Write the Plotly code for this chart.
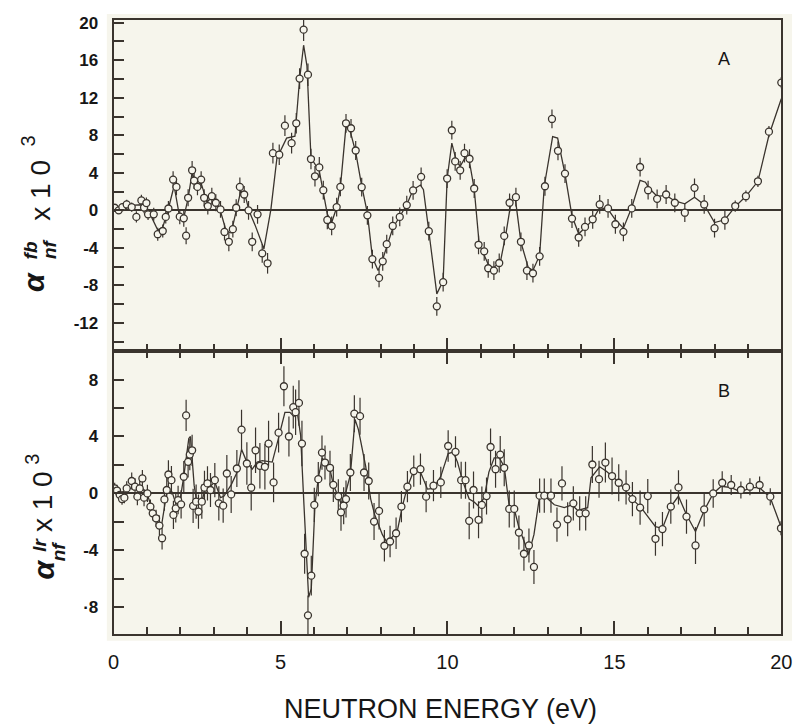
import plotly.graph_objects as go

# ---------------- data ----------------
top_x = [0.03, 0.15, 0.26, 0.39, 0.54, 0.68, 0.83, 0.91, 0.98, 1.03,
         1.20, 1.32, 1.47, 1.56, 1.64, 1.78, 1.88, 1.98, 2.10, 2.17,
         2.23, 2.35, 2.41, 2.51, 2.62, 2.71, 2.82, 2.94, 3.06, 3.20,
         3.32, 3.45, 3.57, 3.67, 3.78, 3.91, 4.04, 4.15, 4.31, 4.45,
         4.61, 4.77, 4.96, 5.13, 5.33, 5.47, 5.57, 5.69, 5.82, 5.91,
         6.03, 6.16, 6.28, 6.40, 6.53, 6.68, 6.79, 6.96, 7.11, 7.25,
         7.43, 7.60, 7.75, 7.95, 8.06, 8.18, 8.36, 8.57, 8.78, 8.97,
         9.21, 9.44, 9.68, 9.87, 9.99, 10.13, 10.23, 10.38, 10.51, 10.66,
         10.80, 10.93, 11.10, 11.22, 11.39, 11.55, 11.70, 11.86, 12.05, 12.20,
         12.38, 12.56, 12.76, 12.92, 13.13, 13.31, 13.52, 13.73, 13.93, 14.12,
         14.35, 14.56, 14.81, 15.03, 15.27, 15.52, 15.77, 16.01, 16.28, 16.55,
         16.81, 17.11, 17.40, 17.69, 18.00, 18.31, 18.62, 18.94, 19.30, 19.63,
         20.00]
top_y = [0.28, 0.0, 0.35, 0.63, 0.35, -0.7, 1.06, 0.3, 0.78, -0.42,
         -0.42, -2.54, -2.2, -0.7, 0.2, 3.28, 2.5, -0.67, -0.85, -2.7,
         1.34, 4.27, 3.17, 2.5, 3.28, 1.34, 0.46, 1.51, 0.81, 0.1,
         -2.3, -3.35, -2.0, 0.28, 2.5, 1.69, 0.0, -3.35, -0.42, -4.59,
         -5.64, 6.1, 5.93, 9.03, 7.16, 9.28, 14.04, 19.26, 14.46, 5.47,
         3.63, 4.58, 2.15, -1.02, -1.66, 0.35, 2.5, 9.28, 8.75, 6.38,
         2.47, -0.53, -5.19, -7.2, -5.43, -3.6, -1.66, -0.7, 0.56, 2.12,
         3.57, -2.22, -10.23, -7.65, 3.39, 8.54, 5.22, 4.27, 6.1, 5.5,
         2.33, -3.67, -4.37, -6.17, -6.42, -5.61, -2.72, 0.81, 1.41, -3.35,
         -6.42, -6.7, -4.9, 2.57, 9.74, 6.35, 3.92, -0.88, -2.89, -1.76,
         -0.95, 0.63, 0.21, -1.48, -2.29, 0.21, 4.62, 2.15, 1.23, 1.69,
         0.81, -0.25, 2.4, 0.63, -1.9, -1.06, 0.46, 1.51, 3.1, 8.39,
         13.62]
top_err = [0.4, 0.4, 0.4, 0.5, 0.5, 0.6, 0.6, 0.6, 0.6, 0.6,
           0.7, 0.7, 0.7, 0.7, 0.8, 0.9, 0.9, 0.8, 0.9, 0.9,
           0.9, 1.0, 0.9, 0.9, 0.9, 0.9, 0.9, 0.9, 0.9, 0.9,
           0.9, 1.0, 0.9, 0.9, 1.0, 0.9, 1.0, 1.0, 1.0, 1.0,
           1.1, 1.1, 1.1, 1.1, 1.1, 1.1, 1.1, 1.2, 1.2, 1.1,
           1.1, 1.1, 1.0, 1.0, 1.0, 1.0, 1.0, 1.0, 1.0, 1.0,
           1.0, 1.0, 1.0, 1.0, 1.0, 1.0, 1.0, 1.0, 1.0, 1.0,
           1.0, 1.0, 1.0, 1.0, 1.0, 1.0, 1.0, 1.0, 1.0, 1.0,
           1.0, 1.0, 1.0, 1.0, 1.0, 1.0, 1.0, 1.0, 1.0, 1.0,
           1.0, 1.0, 1.0, 1.0, 1.0, 1.0, 1.0, 1.0, 1.0, 1.0,
           1.0, 1.0, 1.0, 1.0, 1.0, 1.0, 1.0, 1.0, 1.0, 1.0,
           1.0, 1.0, 1.0, 1.0, 1.0, 1.0, 0.6, 0.6, 0.6, 0.6,
           0.6]

top_fit_x = [0.03, 0.39, 0.83, 1.07, 1.32, 1.47, 1.64, 1.81, 1.96, 2.08,
             2.23, 2.35, 2.49, 2.62, 2.79, 2.96, 3.2, 3.37, 3.52, 3.69,
             3.81, 3.96, 4.06, 4.24, 4.5, 4.71, 4.89, 5.18, 5.43, 5.57,
             5.69, 5.79, 5.91, 6.16, 6.40, 6.53, 6.68, 6.79, 6.96, 7.08,
             7.25, 7.43, 7.6, 7.75, 7.92, 8.06, 8.36, 8.78, 8.97, 9.19,
             9.28, 9.44, 9.68, 9.87, 9.99, 10.13, 10.27, 10.38, 10.51, 10.63,
             10.8, 10.95, 11.24, 11.39, 11.59, 11.75, 11.9, 12.03, 12.2, 12.42,
             12.56, 12.76, 12.9, 13.15, 13.3, 13.52, 13.73, 13.93, 14.17, 14.37,
             14.56, 14.81, 15.03, 15.27, 15.52, 15.77, 15.93, 16.03, 16.28, 16.55,
             16.81, 17.11, 17.4, 17.69, 18.0, 18.31, 18.62, 18.94, 19.3, 19.63,
             20.0]
top_fit_y = [0.0, 0.5, 0.6, -0.25, -2.1, -1.8, 0.2, 2.6, -0.4, -1.1,
             1.3, 4.0, 2.6, 2.9, 0.9, 1.4, -0.1, -2.2, -2.4, 0.3,
             2.1, 1.3, -0.1, -1.6, -4.1, 0.1, 5.57, 7.7, 7.9, 14.0,
             17.6, 15.4, 5.6, 4.2, -0.4, -1.3, 0.3, 2.4, 9.0, 8.5,
             6.2, 2.6, -0.3, -5.0, -6.4, -5.2, -1.9, 0.6, 2.2, 2.7,
             2.2, -2.2, -8.9, -7.5, 3.4, 7.16, 5.2, 4.7, 5.5, 5.75,
             2.3, -3.6, -5.9, -6.1, -5.4, -2.5, 0.8, 1.3, -3.4, -6.1,
             -6.4, -4.8, 2.6, 7.86, 7.7, 3.9, -0.6, -2.5, -1.7, -0.9,
             0.3, 0.1, -1.0, -1.9, 0.3, 3.2, 3.0, 2.4, 1.5, 1.6,
             1.0, 0.7, 1.4, 0.6, -1.3, -1.0, 0.4, 1.5, 3.1, 8.0,
             11.9]

bot_x = [0.03, 0.10, 0.18, 0.25, 0.32, 0.39, 0.54, 0.64, 0.71, 0.78,
         0.86, 0.91, 1.01, 1.10, 1.17, 1.27, 1.37, 1.45, 1.52, 1.59,
         1.64, 1.73, 1.79, 1.86, 1.93, 2.02, 2.10, 2.17, 2.23, 2.28,
         2.35, 2.38, 2.47, 2.54, 2.64, 2.72, 2.81, 2.90, 3.03, 3.15,
         3.28, 3.39, 3.52, 3.69, 3.83, 3.99, 4.12, 4.25, 4.38, 4.53,
         4.64, 4.79, 4.94, 5.10, 5.25, 5.38, 5.45, 5.55, 5.64, 5.72,
         5.82, 5.92, 6.01, 6.13, 6.24, 6.33, 6.48, 6.58, 6.73, 6.81,
         6.89, 6.96, 7.09, 7.21, 7.38, 7.50, 7.64, 7.80, 7.95, 8.11,
         8.28, 8.46, 8.62, 8.80, 8.99, 9.19, 9.36, 9.58, 9.80, 10.02,
         10.24, 10.41, 10.54, 10.65, 10.78, 10.93, 11.03, 11.17, 11.29, 11.44,
         11.58, 11.70, 11.85, 12.00, 12.14, 12.29, 12.44, 12.59, 12.76, 12.90,
         13.10, 13.28, 13.43, 13.60, 13.77, 13.96, 14.14, 14.34, 14.54, 14.73,
         14.93, 15.13, 15.35, 15.54, 15.77, 16.00, 16.23, 16.44, 16.69, 16.92,
         17.16, 17.43, 17.69, 17.96, 18.23, 18.50, 18.79, 19.06, 19.35, 19.67,
         19.99]
bot_y = [0.35, 0.2, -0.1, -0.4, -0.3, 0.35, 0.87, 0.47, -0.23, 0.35,
         1.05, -0.3, 0.0, -0.93, -1.4, -1.75, -2.26, -3.15, -0.42, 0.24,
         1.33, 0.93, -1.51, -1.05, -0.47, -0.77, 1.17, 5.48, 2.22, 2.73,
         3.03, -0.88, -0.58, -1.28, -0.58, 0.4, 0.7, 0.24, 0.93, -0.7,
         -0.86, 1.4, -0.07, 1.75, 4.48, 2.1, 0.4, 3.03, 1.94, 1.87,
         3.5, 0.77, 4.27, 7.53, 4.0, 6.06, 5.71, 6.36, 3.5, -4.24,
         -8.57, -5.78, -0.81, 1.0, 2.87, 2.17, 1.8, 0.6, -0.2, -1.33,
         -0.86, -0.4, 1.47, 5.6, 5.43, 1.47, 0.87, -1.98, -1.23, -3.68,
         -3.38, -2.8, -0.93, 0.47, 1.57, 1.7, -0.23, 0.54, 0.77, 3.33,
         2.92, 0.93, 0.93, -1.93, 0.24, -1.86, -0.81, -0.19, 3.26, 1.7,
         2.73, 1.8, -1.09, -1.09, -2.75, -4.24, -3.66, -5.17, -0.16, -0.16,
         -0.16, -2.19, 0.7, -1.82, -0.7, -1.4, -1.4, 2.03, 1.0, 2.17,
         1.22, 0.75, 0.42, -0.4, -1.0, -0.19, -3.19, -2.51, -0.93, 0.42,
         -1.63, -3.66, -1.12, 0.0, 0.75, 0.59, 0.24, 0.47, 0.59, -0.23,
         -2.45]
bot_err = [0.4, 0.4, 0.4, 0.4, 0.4, 0.5, 0.6, 0.6, 0.6, 0.6,
           0.6, 0.6, 0.6, 0.5, 0.5, 0.6, 0.7, 0.8, 0.8, 0.9,
           1.0, 1.0, 1.0, 1.0, 1.0, 1.0, 1.1, 1.1, 1.1, 1.1,
           1.1, 1.2, 1.2, 1.2, 1.2, 1.2, 1.2, 1.2, 1.2, 1.2,
           1.2, 1.3, 1.3, 1.3, 1.4, 1.5, 1.6, 1.6, 1.6, 1.6,
           1.6, 1.4, 1.4, 1.4, 1.4, 1.5, 1.6, 1.6, 1.6, 1.4,
           1.4, 1.4, 1.2, 1.2, 1.2, 1.2, 1.2, 1.2, 1.2, 1.3,
           1.3, 1.3, 1.3, 1.3, 1.3, 1.3, 1.3, 1.3, 1.3, 1.1,
           1.1, 1.1, 1.1, 1.1, 1.1, 1.1, 1.1, 1.1, 1.1, 1.1,
           1.1, 1.3, 1.3, 1.3, 1.3, 1.3, 1.3, 1.3, 1.3, 1.3,
           1.3, 1.3, 1.3, 1.3, 1.2, 1.2, 1.2, 1.2, 1.2, 1.2,
           1.2, 1.2, 1.2, 1.2, 1.2, 1.2, 1.2, 1.3, 1.3, 1.4,
           1.3, 1.3, 1.2, 1.2, 1.2, 1.2, 1.2, 1.2, 1.2, 1.2,
           1.2, 1.3, 1.2, 1.0, 0.8, 0.7, 0.6, 0.6, 0.6, 0.6,
           0.5]

bot_fit_x = [0.03, 0.2, 0.39, 0.6, 0.8, 1.0, 1.2, 1.42, 1.54, 1.6,
             1.75, 1.86, 2.0, 2.1, 2.25, 2.3, 2.41, 2.5, 2.64, 2.75,
             2.9, 3.03, 3.2, 3.3, 3.52, 3.7, 3.83, 3.99, 4.15, 4.3,
             4.45, 4.75, 4.94, 5.13, 5.28, 5.4, 5.5, 5.6, 5.7, 5.78,
             5.84, 5.92, 6.03, 6.13, 6.25, 6.33, 6.48, 6.58, 6.81, 6.91,
             7.09, 7.23, 7.33, 7.55, 7.7, 7.82, 8.05, 8.2, 8.3, 8.5,
             8.65, 8.8, 8.99, 9.19, 9.4, 9.58, 9.8, 10.02, 10.17, 10.3,
             10.45, 10.65, 10.8, 10.93, 11.1, 11.24, 11.4, 11.55, 11.7, 11.85,
             12.0, 12.14, 12.3, 12.43, 12.59, 12.76, 12.9, 13.05, 13.2, 13.5,
             13.73, 13.9, 14.2, 14.3, 14.56, 14.76, 15.13, 15.54, 15.8, 16.23,
             16.44, 16.69, 16.92, 17.16, 17.43, 17.69, 17.96, 18.2, 18.5, 18.8,
             19.06, 19.35, 19.67, 20.0]
bot_fit_y = [0.35, 0.0, 0.3, 0.4, 0.5, 0.0, -1.5, -2.45, -0.7, 0.2,
             0.1, -0.7, -0.3, 1.2, 3.85, 4.0, 0.58, -0.8, -0.6, 0.4,
             0.5, 0.8, -0.3, -0.2, 0.6, 1.5, 3.1, 2.2, 1.7, 2.2,
             2.3, 2.2, 3.9, 5.7, 5.7, 5.4, 5.7, 4.1, -0.8, -4.6,
             -7.3, -6.7, -0.8, 1.1, 2.5, 2.1, 1.7, 0.6, -0.7, -0.3,
             1.3, 5.2, 4.5, 1.9, -0.4, -1.5, -2.9, -3.5, -3.2, -2.6,
             -0.9, 0.47, 1.6, 1.5, 0.3, 0.35, 1.2, 2.8, 2.9, 2.2,
             0.9, -0.4, -0.6, -0.9, -0.3, 1.5, 2.5, 2.5, 1.9, -0.9,
             -1.1, -2.4, -3.4, -4.3, -2.9, -0.2, -0.16, -0.5, -0.8, -1.0,
             -0.8, -1.2, -1.0, 1.1, 1.87, 1.56, 0.8, -0.4, -1.0, -2.33,
             -2.45, -0.93, -0.2, -1.5, -2.68, -1.2, 0.0, 0.5, 0.4, 0.1,
             0.4, 0.4, -0.3, -2.4]

top_ticks = [-12, -8, -4, 0, 4, 8, 12, 16, 20]
top_tick_text = ["-12", "-8", "-4", "0", "4", "8", "12", "16", "20"]
bot_ticks = [-8, -4, 0, 4, 8]
bot_tick_text = ["·8", "-4", "0", "4", "8"]
x_ticks = [0, 5, 10, 15, 20]
x_tick_text = ["0", "5", "10", "15", "20"]

assert len(top_x) == len(top_y) == len(top_err)
assert len(bot_x) == len(bot_y) == len(bot_err)
assert len(top_fit_x) == len(top_fit_y)
assert len(bot_fit_x) == len(bot_fit_y)

# ---------------- style ----------------
W, H = 806, 725
INK = "#3a342e"
TXT = "#161616"
CREAM = "#f6f5ec"
FONT = "Liberation Sans, Arial, Helvetica, sans-serif"

def px(x):
    return x / W

def py(y):
    return 1 - y / H

XDOM = [px(110), px(792)]
TOP_DOM = [py(348), py(14)]
BOT_DOM = [py(633.5), py(348)]

fig = go.Figure()

def add_panel(xs, ys, errs, fx, fy, xa, ya):
    fig.add_trace(go.Scatter(x=fx, y=fy, mode="lines", xaxis=xa, yaxis=ya,
                             line=dict(color=INK, width=1.3), hoverinfo="skip",
                             showlegend=False))
    fig.add_trace(go.Scatter(x=xs, y=ys, mode="markers", xaxis=xa, yaxis=ya,
                             marker=dict(symbol="circle", size=7, color=CREAM,
                                         line=dict(color=INK, width=1.3)),
                             error_y=dict(type="data", array=errs, visible=True,
                                          width=0, thickness=1.2, color=INK),
                             showlegend=False))

add_panel(top_x, top_y, top_err, top_fit_x, top_fit_y, "x", "y")
add_panel(bot_x, bot_y, bot_err, bot_fit_x, bot_fit_y, "x2", "y2")

common_x = dict(range=[0, 20], domain=XDOM, showgrid=False, zeroline=False,
                showline=True, linecolor=INK, linewidth=2,
                ticks="inside", tickvals=x_ticks, ticklen=13, tickwidth=1.5,
                tickcolor=INK,
                minor=dict(ticks="inside", dtick=1, tick0=0, ticklen=7,
                           tickwidth=1.5, tickcolor=INK, showgrid=False))
common_y = dict(showgrid=False, showline=True, linecolor=INK, linewidth=2,
                mirror=True, ticks="inside", ticklen=10, tickwidth=1.5,
                tickcolor=INK, zeroline=True, zerolinecolor=INK,
                zerolinewidth=2,
                tickfont=dict(family=FONT, size=17, color=TXT, weight="bold"),
                ticklabelstandoff=10)

fig.update_layout(
    width=W, height=H,
    margin=dict(l=0, r=0, t=0, b=0),
    paper_bgcolor="white",
    plot_bgcolor=CREAM,
    showlegend=False,
    xaxis=dict(common_x, anchor="y", mirror=True, showticklabels=False),
    xaxis2=dict(common_x, anchor="y2", mirror="ticks", showticklabels=True,
                ticktext=x_tick_text,
                tickfont=dict(family=FONT, size=20, color=TXT),
                ticklabelstandoff=9),
    yaxis=dict(common_y, domain=TOP_DOM, range=[-15, 20.3], anchor="x",
               tickvals=top_ticks, ticktext=top_tick_text,
               minor=dict(ticks="inside", dtick=2, tick0=0, ticklen=10,
                          tickwidth=1.5, tickcolor=INK, showgrid=False)),
    yaxis2=dict(common_y, domain=BOT_DOM, range=[-9.9, 10], anchor="x2",
                tickvals=bot_ticks, ticktext=bot_tick_text,
                minor=dict(ticks="inside", dtick=2, tick0=0, ticklen=10,
                           tickwidth=1.5, tickcolor=INK, showgrid=False)),
)

shapes = [dict(type="rect", xref="paper", yref="paper", layer="below",
               x0=px(103), x1=px(803), y0=py(640), y1=py(8),
               fillcolor=CREAM, line=dict(width=0))]
fig.update_layout(shapes=shapes)

def ann(text, x, y, size, angle=0, bold=False, italic=False):
    t = text
    if italic:
        t = "<i>" + t + "</i>"
    if bold:
        t = "<b>" + t + "</b>"
    fig.add_annotation(text=t, xref="paper", yref="paper", x=px(x), y=py(y),
                       xanchor="center", yanchor="middle", showarrow=False,
                       textangle=angle,
                       font=dict(family=FONT, size=size, color=TXT))

# axis title
ann("NEUTRON ENERGY (eV)", 444, 709, 27)
# panel labels
ann("A", 733, 53, 18)
ann("B", 733, 388, 18)

# top y title: alpha^fb_nf x 10^3
ann("α", 28, 278, 30, -90, bold=True, italic=True)
ann("fb", 25, 246, 19, -90, bold=True, italic=True)
ann("nf", 45, 245, 19, -90, bold=True, italic=True)
ann("x 1 0", 35, 186, 28, -90)
ann("3", 22, 136, 20, -90)

# bottom y title: alpha^lr_nf x 10^3
ann("α", 38, 568, 30, -90, bold=True, italic=True)
ann("lr", 34, 543, 19, -90, bold=True, italic=True)
ann("nf", 54, 550, 19, -90, bold=True, italic=True)
ann("x 1 0", 38, 500, 28, -90)
ann("3", 27, 457, 20, -90)

fig.write_html("out.html")
